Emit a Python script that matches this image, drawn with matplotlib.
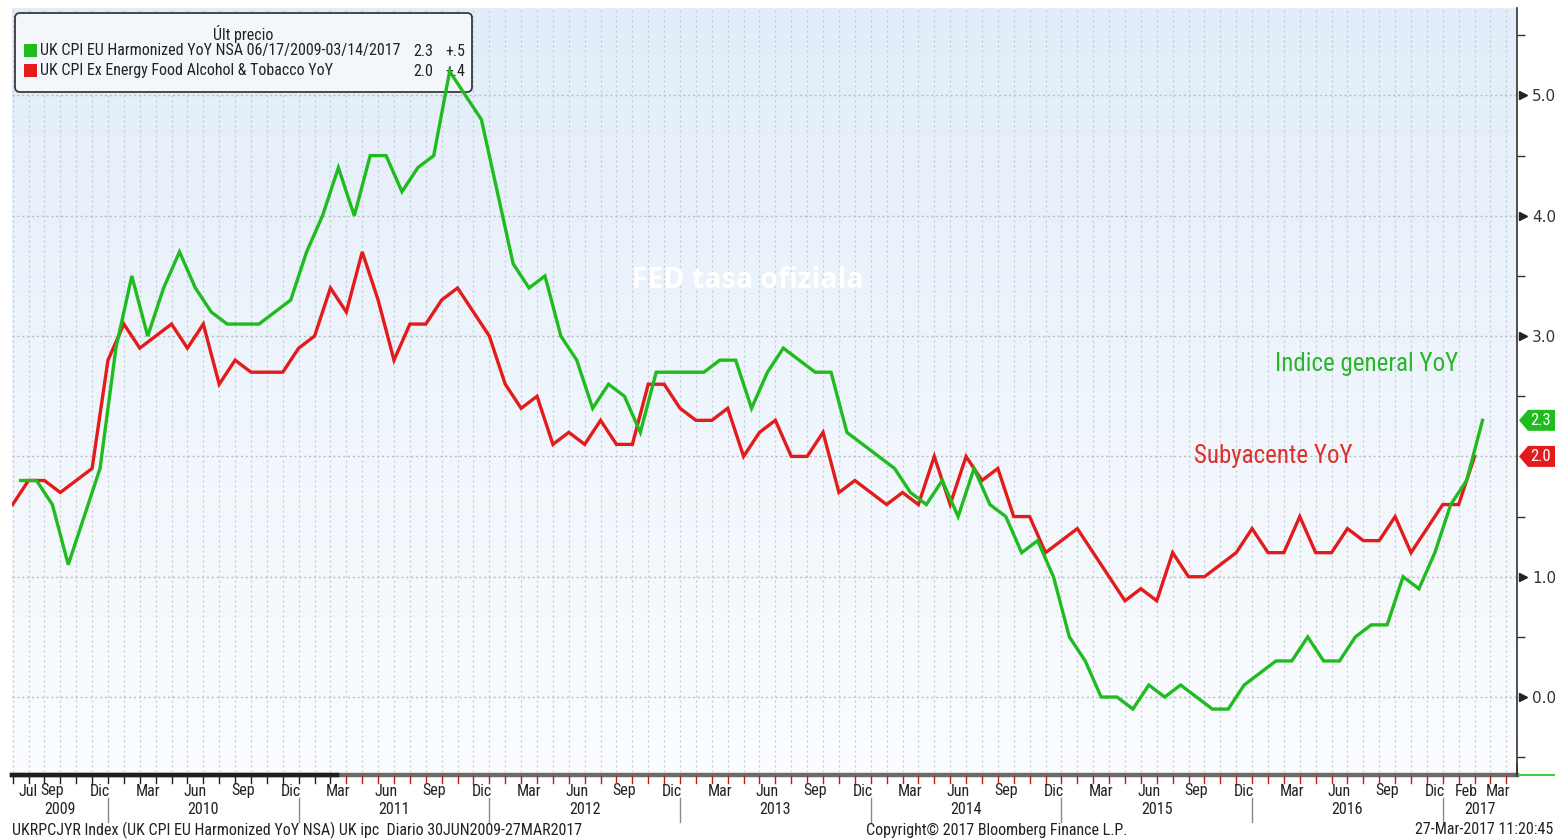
import numpy as np
import matplotlib
matplotlib.use('Agg')
import matplotlib.pyplot as plt
import matplotlib.transforms as mtransforms
from matplotlib import font_manager
from matplotlib.patches import FancyBboxPatch, Polygon, Rectangle

W, H = 1555, 839
names = {f.name for f in font_manager.fontManager.ttflist}
NARROW = next((n for n in ['Liberation Sans Narrow', 'Roboto Condensed', 'Open Sans Condensed']
               if n in names), 'DejaVu Sans')
BOLD = 'Open Sans' if 'Open Sans' in names else 'DejaVu Sans'

# monthly values Jun 2009 .. Feb 2017
headline = [1.8, 1.8, 1.6, 1.1, 1.5, 1.9, 2.9,
            3.5, 3.0, 3.4, 3.7, 3.4, 3.2, 3.1, 3.1, 3.1, 3.2, 3.3, 3.7,
            4.0, 4.4, 4.0, 4.5, 4.5, 4.2, 4.4, 4.5, 5.2, 5.0, 4.8, 4.2,
            3.6, 3.4, 3.5, 3.0, 2.8, 2.4, 2.6, 2.5, 2.2, 2.7, 2.7, 2.7,
            2.7, 2.8, 2.8, 2.4, 2.7, 2.9, 2.8, 2.7, 2.7, 2.2, 2.1, 2.0,
            1.9, 1.7, 1.6, 1.8, 1.5, 1.9, 1.6, 1.5, 1.2, 1.3, 1.0, 0.5,
            0.3, 0.0, 0.0, -0.1, 0.1, 0.0, 0.1, 0.0, -0.1, -0.1, 0.1, 0.2,
            0.3, 0.3, 0.5, 0.3, 0.3, 0.5, 0.6, 0.6, 1.0, 0.9, 1.2, 1.6,
            1.8, 2.3]
core = [1.6, 1.8, 1.8, 1.7, 1.8, 1.9, 2.8,
        3.1, 2.9, 3.0, 3.1, 2.9, 3.1, 2.6, 2.8, 2.7, 2.7, 2.7, 2.9,
        3.0, 3.4, 3.2, 3.7, 3.3, 2.8, 3.1, 3.1, 3.3, 3.4, 3.2, 3.0,
        2.6, 2.4, 2.5, 2.1, 2.2, 2.1, 2.3, 2.1, 2.1, 2.6, 2.6, 2.4,
        2.3, 2.3, 2.4, 2.0, 2.2, 2.3, 2.0, 2.0, 2.2, 1.7, 1.8, 1.7,
        1.6, 1.7, 1.6, 2.0, 1.6, 2.0, 1.8, 1.9, 1.5, 1.5, 1.2, 1.3,
        1.4, 1.2, 1.0, 0.8, 0.9, 0.8, 1.2, 1.0, 1.0, 1.1, 1.2, 1.4,
        1.2, 1.2, 1.5, 1.2, 1.2, 1.4, 1.3, 1.3, 1.5, 1.2, 1.4, 1.6,
        1.6, 2.0]

month_labels = ['Jul', 'Sep', 'Dic'] + ['Mar', 'Jun', 'Sep', 'Dic'] * 7 + ['Feb', 'Mar']
month_pos = [6.5, 8, 11] + [12 * y + m for y in range(1, 8) for m in (2, 5, 8, 11)] + [97, 99]
years = [str(y) for y in range(2009, 2018)]

# x axis: months since Jan 2009 (integer = middle of month)
months = np.arange(len(headline)) + 5
x_core = months + 0.5    # end of month
x_head = months + 1.0    # release, mid next month
XMIN, XMAX = 5.46, 100.17
YMIN, YMAX = -0.623, 5.727

GREEN = '#1fbb1f'
RED = '#e31b1b'
TXT = '#222222'

fig = plt.figure(figsize=(W / 100, H / 100), dpi=100, facecolor='white')
ax = fig.add_axes([12 / W, 1 - 772 / H, (1517 - 12) / W, (772 - 8) / H])
pxT = mtransforms.Affine2D().scale(1, -1).translate(0, H) + mtransforms.Affine2D().scale(1 / 100) + fig.dpi_scale_trans

# background gradient
grad = np.linspace(0, 1, 256).reshape(-1, 1)
top = np.array([226, 237, 249]) / 255
bot = np.array([251, 253, 255]) / 255
img = top * (1 - grad[..., None]) + bot * grad[..., None]
img = np.repeat(img, 2, axis=1)
ax.imshow(img, extent=[0, 1, 0, 1], transform=ax.transAxes, aspect='auto', zorder=0)

ax.set_xlim(XMIN, XMAX)
ax.set_ylim(YMIN, YMAX)

for xv in np.arange(5.5, 100, 1.0):
    ax.axvline(xv, color='#c2c8d0', lw=0.9, ls=(0, (1.5, 2.5)), zorder=1)
for yv in range(0, 6):
    ax.axhline(yv, color='#b8bec6', lw=1.0, ls=(0, (1.5, 2.0)), zorder=1)

# legend box (under the lines)
ax.add_patch(FancyBboxPatch((15, 13), 457, 79, boxstyle='round,pad=0,rounding_size=5',
                            transform=pxT, facecolor='#f3f7fc', edgecolor='#3a3a3a',
                            lw=1.3, zorder=2, clip_on=False))
ax.text(243, 34, 'Últ precio', transform=pxT, ha='center', va='center',
        fontsize=11.5, family=NARROW, color=TXT, zorder=3)
rows = [(GREEN, 'UK CPI EU Harmonized YoY NSA 06/17/2009-03/14/2017', '2.3', '+.5', 51),
        (RED, 'UK CPI Ex Energy Food Alcohol & Tobacco YoY', '2.0', '+.4', 71)]
for col, lab, last, chg, yy in rows:
    ax.add_patch(Rectangle((24, yy - 7), 13, 13, transform=pxT, facecolor=col,
                           edgecolor='none', zorder=3, clip_on=False))
    ax.text(40, yy, lab, transform=pxT, ha='left', va='center', fontsize=11.5,
            family=NARROW, color=TXT, zorder=3)
    ax.text(433, yy, last, transform=pxT, ha='right', va='center', fontsize=11.5,
            family=NARROW, color=TXT, zorder=3)
    ax.text(445, yy, chg, transform=pxT, ha='left', va='center', fontsize=11.5,
            family=NARROW, color=TXT, zorder=3)

ax.plot(x_core, core, color=RED, lw=2.4, zorder=4, solid_joinstyle='miter')
ax.plot(x_head, headline, color=GREEN, lw=2.4, zorder=5, solid_joinstyle='miter')

ax.text(748, 281, 'FED tasa ofiziala', transform=pxT, ha='center', va='center',
        fontsize=20.5, fontweight='bold', family=BOLD, color='white', zorder=6)
ax.text(1367, 364, 'Indice general YoY', transform=pxT, ha='center', va='center',
        fontsize=18, family=NARROW, color='#2bb52b', zorder=6)
ax.text(1273, 456, 'Subyacente YoY', transform=pxT, ha='center', va='center',
        fontsize=18, family=NARROW, color='#e0302a', zorder=6)

# right axis
for s in ['left', 'top', 'bottom']:
    ax.spines[s].set_visible(False)
ax.spines['right'].set_color('#333333')
ax.spines['right'].set_linewidth(1.2)
ax.yaxis.tick_right()
tick_vals = [0, 1, 3, 4, 5]   # 2.0 is hidden behind the value tag
ax.set_yticks(tick_vals)
ax.set_yticklabels([f'{v:.1f}' for v in tick_vals], fontsize=11, color='#333333')
ax.set_yticks(np.arange(-0.5, 5.6, 1.0), minor=True)
ax.tick_params(axis='y', which='major', length=0, pad=11)
ax.tick_params(axis='y', which='minor', length=6, width=1, color='#333333', direction='out')
ax.set_xticks([])
bt = mtransforms.blended_transform_factory(ax.transAxes, ax.transData)
ax.plot([1.004] * len(tick_vals), tick_vals, ls='none', marker='>', ms=6, color=TXT,
        transform=bt, clip_on=False, zorder=6)

# last value tags
bp = mtransforms.blended_transform_factory(pxT, ax.transData)
for val, col in [(headline[-1], GREEN), (core[-1], RED)]:
    h = 10.5 / 120.3
    ax.add_patch(Polygon([(1519, val), (1528, val + h), (1556, val + h), (1556, val - h), (1528, val - h)],
                         closed=True, transform=bp, facecolor=col, edgecolor='none',
                         clip_on=False, zorder=6))
    ax.text(1541, val, f'{val:.1f}', transform=bp, ha='center', va='center', fontsize=12,
            family=NARROW, color='white', zorder=7, clip_on=False)

# bottom time bar
bx = mtransforms.blended_transform_factory(ax.transData, pxT)
ax.plot([XMIN, XMAX], [774.5, 774.5], color='#6a6a6a', lw=3.2, transform=bx, clip_on=False, zorder=6)
ax.plot([XMIN, 25.9], [774.5, 774.5], color='#1e1e1e', lw=3.2, transform=bx, clip_on=False, zorder=6)
ax.plot([1519, 1555], [775, 775], color='#44cc44', lw=1.5, transform=pxT, clip_on=False, zorder=6)
for xv in np.arange(5.5, 100, 1.0):
    c = '#1e1e1e' if xv < 26 else '#b32020'
    ax.plot([xv, xv], [776, 783], color=c, lw=1, transform=bx, clip_on=False, zorder=6)
ax.plot([XMAX, XMAX], [764, 776], color='#333333', lw=1.2, transform=bx, clip_on=False, zorder=6)

for lab, xp in zip(month_labels, month_pos):
    ax.text(xp, 791, lab, transform=bx, ha='center', va='center', fontsize=11.5,
            family=NARROW, color=TXT, clip_on=False)
bounds = [XMIN] + [11.5 + 12 * k for k in range(8)] + [XMAX]
for i, y in enumerate(years):
    ax.text((bounds[i] + bounds[i + 1]) / 2, 810, y, transform=bx, ha='center', va='center',
            fontsize=11.5, family=NARROW, color=TXT, clip_on=False)
for b in bounds[1:-1]:
    ax.plot([b, b], [798, 822], color='#8a8a8a', lw=1, transform=bx, clip_on=False)

fig.text(12 / W, 1 - 830 / H, 'UKRPCJYR Index (UK CPI EU Harmonized YoY NSA) UK ipc  Diario 30JUN2009-27MAR2017',
         ha='left', va='center', fontsize=11.5, family=NARROW, color=TXT)
fig.text(997 / W, 1 - 830 / H, 'Copyright© 2017 Bloomberg Finance L.P.',
         ha='center', va='center', fontsize=11.5, family=NARROW, color=TXT)
fig.text(1553 / W, 1 - 830 / H, '27-Mar-2017 11:20:45',
         ha='right', va='center', fontsize=11.5, family=NARROW, color=TXT)

fig.savefig('out.png', dpi=100, facecolor='white')
